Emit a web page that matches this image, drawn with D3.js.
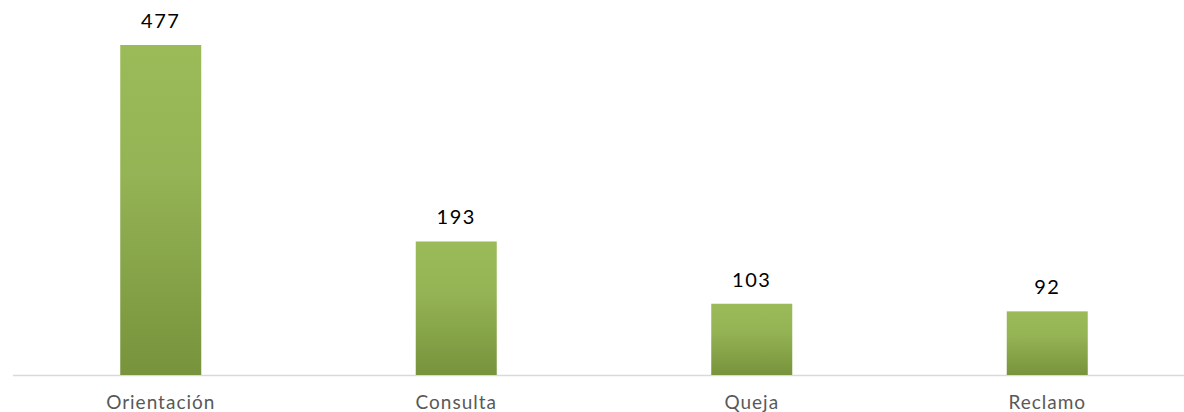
<!DOCTYPE html>
<html><head><meta charset="utf-8">
<script src="https://cdn.jsdelivr.net/npm/d3@7"></script>
<style>body{margin:0;background:#fff}svg{display:block}</style>
</head><body>
<svg id="chart" width="1184" height="412"></svg>
<script>
const categories = ["Orientación", "Consulta", "Queja", "Reclamo"];
const values = [477, 193, 103, 92];

const W = 1184, H = 412;
const svg = d3.select("#chart");
const defs = svg.append("defs");
const grad = defs.append("linearGradient").attr("id", "g").attr("x1", 0).attr("y1", 0).attr("x2", 0).attr("y2", 1);
grad.append("stop").attr("offset", "0%").attr("stop-color", "#9bbb59");
grad.append("stop").attr("offset", "40%").attr("stop-color", "#94b354");
grad.append("stop").attr("offset", "100%").attr("stop-color", "#77933c");

const x = d3.scaleBand().domain(categories).range([13, 1195]).paddingInner(0).paddingOuter(0);
const y = d3.scaleLinear().domain([0, 477]).range([375, 45]);
const bw = 81;

svg.append("line").attr("x1", 13).attr("x2", 1184).attr("y1", 375.5).attr("y2", 375.5)
  .attr("stroke", "#d9d9d9").attr("stroke-width", 1.5);

const g = svg.append("g");
g.selectAll("rect").data(values).enter().append("rect")
  .attr("x", (d, i) => x(categories[i]) + x.bandwidth() / 2 - bw / 2)
  .attr("width", bw)
  .attr("y", d => y(d))
  .attr("height", d => y(0) - y(d))
  .attr("fill", "url(#g)");

g.selectAll("text.v").data(values).enter().append("text").attr("class", "v")
  .attr("x", (d, i) => x(categories[i]) + x.bandwidth() / 2)
  .attr("y", d => y(d) - 17)
  .attr("text-anchor", "middle")
  .attr("font-family", "Lato, 'Noto Sans', sans-serif")
  .attr("font-size", 20)
  .attr("letter-spacing", 1.5)
  .attr("fill", "#000")
  .text(d => d);

const xAxis = d3.axisBottom(x).tickSize(0).tickPadding(0);
const ax = svg.append("g").attr("transform", "translate(0,375)").call(xAxis);
ax.select(".domain").remove();
ax.selectAll("text")
  .attr("dy", null)
  .attr("y", 34)
  .attr("font-family", "Lato, 'Noto Sans', sans-serif")
  .attr("font-size", 19)
  .attr("letter-spacing", 1)
  .attr("fill", "#595959");
</script>
</body></html>
